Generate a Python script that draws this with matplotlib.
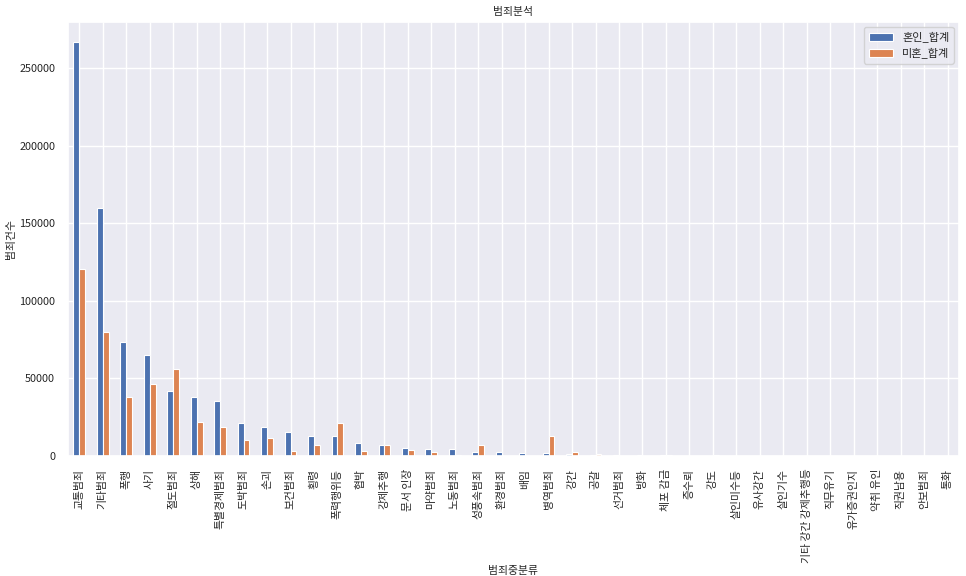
import matplotlib
matplotlib.use("Agg")
import matplotlib.pyplot as plt
import seaborn as sns
import numpy as np

categories = ["교통범죄", "기타범죄", "폭행", "사기", "절도범죄", "상해", "특별경제범죄", "도박범죄",
              "손괴", "보건범죄", "횡령", "폭력행위등", "협박", "강제추행", "문서 인장", "마약범죄",
              "노동범죄", "성풍속범죄", "환경범죄", "배임", "병역범죄", "강간", "공갈", "선거범죄",
              "방화", "체포 감금", "증수뢰", "강도", "살인미수등", "유사강간", "살인기수",
              "기타 강간 강제추행등", "직무유기", "유가증권인지", "약취 유인", "직권남용", "안보범죄", "통화"]

married = [267100, 160000, 73600, 65450, 41600, 38100, 35150, 21600,
           18900, 15700, 13100, 13200, 8700, 7400, 5300, 4600,
           4600, 2650, 2650, 2000, 2000, 1400, 500, 800,
           500, 600, 300, 300, 150, 100, 100,
           80, 60, 50, 40, 30, 20, 10]
single = [120300, 79650, 38100, 46750, 55800, 22250, 18900, 10600,
          11300, 3500, 7400, 21000, 3500, 6800, 4000, 2650,
          900, 7400, 200, 300, 13200, 2650, 1400, 300,
          300, 400, 100, 600, 100, 150, 50,
          60, 30, 40, 50, 20, 20, 10]

series_names = ["혼인_합계", "미혼_합계"]

sns.set_theme(style="darkgrid")
plt.rcParams['font.family'] = ['Noto Sans CJK KR', 'DejaVu Sans']
plt.rcParams['axes.unicode_minus'] = False

fig = plt.figure(figsize=(9.66, 5.76), dpi=100)
ax = fig.add_axes([0.070, 0.2083, 0.923, 0.754])

x = np.arange(len(categories))
w = 0.25
ax.bar(x - w / 2, married, width=w, color="#4C72B0", label=series_names[0], edgecolor="white", linewidth=0.8)
ax.bar(x + w / 2, single, width=w, color="#DD8452", label=series_names[1], edgecolor="white", linewidth=0.8)

ax.set_xlim(-0.5, len(categories) - 0.5)
ax.set_ylim(0, 280000)
ax.set_yticks([0, 50000, 100000, 150000, 200000, 250000])
ax.set_yticklabels(["0", "50000", "100000", "150000", "200000", "250000"])
ax.set_xticks(x)
ax.set_xticklabels(categories, rotation=90)
ax.tick_params(axis='both', labelsize=7.8, pad=3)

ax.set_title("범죄분석", fontsize=7.8, pad=5)
ax.set_xlabel("범죄중분류", fontsize=7.8, labelpad=2)
ax.set_ylabel("범죄건수", fontsize=7.8, labelpad=2)

ax.legend(loc="upper right", fontsize=8, frameon=True, handlelength=2.2)

fig.savefig("out.png", dpi=100)
